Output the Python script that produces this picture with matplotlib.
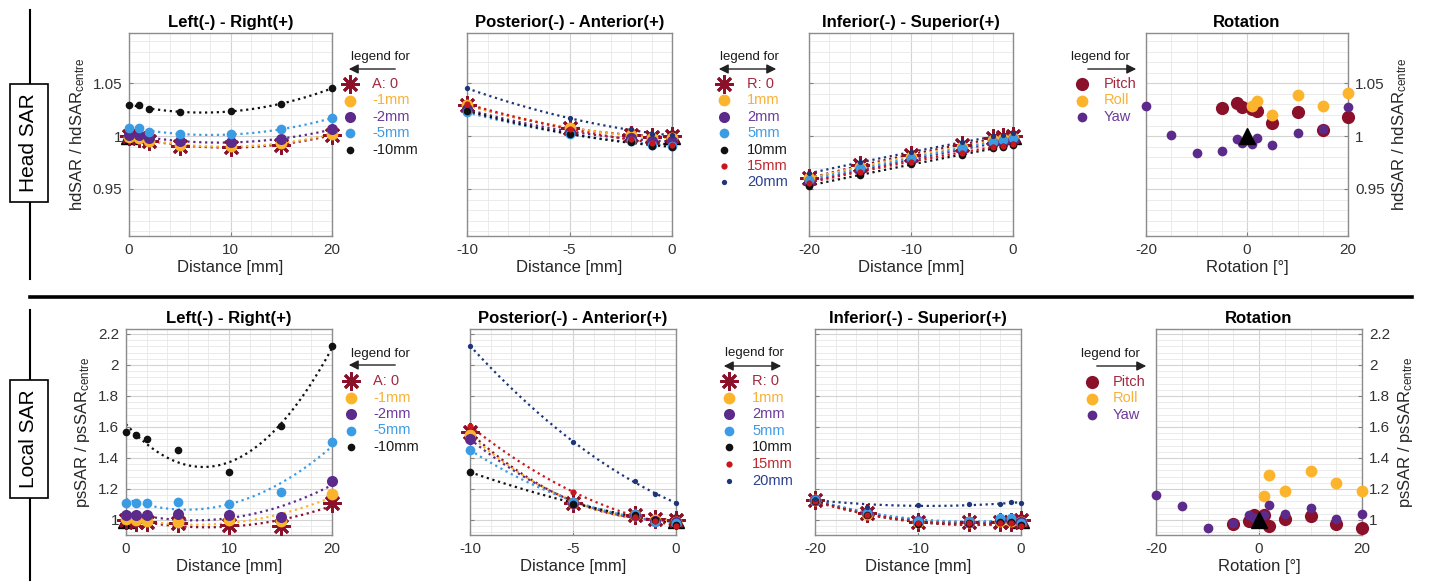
import numpy as np
import matplotlib
matplotlib.use("Agg")
import matplotlib.pyplot as plt
from matplotlib.lines import Line2D
from matplotlib.ticker import MultipleLocator

plt.rcParams['font.family'] = ['Liberation Sans', 'DejaVu Sans']
plt.rcParams['mathtext.default'] = 'regular'
plt.rcParams['axes.unicode_minus'] = False

W, H = 1430, 584

# ---------------- data ----------------
lr_dist = [0, 1, 2, 5, 10, 15, 20]          # left-right offset (R) in mm
pa_dist = [-10, -5, -2, -1, 0]              # posterior-anterior offset (A) in mm
is_dist = [-20, -15, -10, -5, -2, -1, 0]    # inferior-superior offset in mm

a_labels = ['A: 0', '-1mm', '-2mm', '-5mm', '-10mm']
r_labels = ['R: 0', '1mm', '2mm', '5mm', '10mm', '15mm', '20mm']
rot_labels = ['Pitch', 'Roll', 'Yaw']

# head SAR (hdSAR / hdSAR_centre), one list per A offset, values along lr_dist
head_a0 = [1.000, 0.998, 0.995, 0.991, 0.990, 0.992, 1.001]
head_a1 = [0.9995, 0.9985, 0.9955, 0.9918, 0.9905, 0.9932, 1.002]
head_a2 = [1.0015, 1.001, 0.998, 0.995, 0.9948, 0.997, 1.0065]
head_a5 = [1.008, 1.008, 1.0043, 1.0017, 1.0017, 1.0068, 1.0169]
head_a10 = [1.0295, 1.029, 1.0254, 1.0225, 1.0241, 1.0304, 1.0453]

# head SAR, inferior-superior, one list per R offset
head_is_r0 = [0.960, 0.9727, 0.9822, 0.9916, 0.998, 0.999, 1.000]
head_is_r1 = [0.960, 0.971, 0.9806, 0.990, 0.9964, 0.997, 0.998]
head_is_r2 = [0.957, 0.968, 0.9774, 0.9869, 0.9938, 0.9948, 0.9964]
head_is_r5 = [0.9585, 0.9696, 0.979, 0.9885, 0.9948, 0.9964, 0.998]
head_is_r10 = [0.9532, 0.9632, 0.9733, 0.9822, 0.9885, 0.990, 0.9916]
head_is_r15 = [0.956, 0.9664, 0.9759, 0.9844, 0.990, 0.991, 0.9926]
head_is_r20 = [0.9648, 0.9752, 0.9847, 0.9941, 1.0002, 1.001, 1.0027]

# local SAR (psSAR / psSAR_centre)
local_a0 = [1.000, 0.989, 0.988, 0.983, 0.968, 0.963, 1.108]
local_a1 = [1.004, 1.000, 0.994, 0.989, 1.000, 0.994, 1.166]
local_a2 = [1.032, 1.030, 1.032, 1.037, 1.032, 1.022, 1.254]
local_a5 = [1.108, 1.108, 1.112, 1.114, 1.103, 1.183, 1.501]
local_a10 = [1.565, 1.548, 1.523, 1.452, 1.310, 1.606, 2.125]

local_is_r0 = [1.130, 1.043, 0.987, 0.985, 0.990, 0.990, 1.000]
local_is_r1 = [1.128, 1.040, 0.990, 0.990, 0.995, 0.995, 0.989]
local_is_r2 = [1.130, 1.045, 0.992, 0.990, 1.000, 1.000, 0.988]
local_is_r5 = [1.130, 1.048, 0.995, 0.995, 1.010, 1.012, 0.983]
local_is_r10 = [1.125, 1.035, 0.975, 0.980, 0.985, 0.985, 0.968]
local_is_r15 = [1.120, 1.035, 0.980, 0.978, 0.980, 0.980, 0.963]
local_is_r20 = [1.135, 1.086, 1.097, 1.103, 1.103, 1.114, 1.108]

# rotation
pitch_deg = [-5, -2, -1, 1, 2, 5, 10, 15, 20]
roll_deg = [1, 2, 5, 10, 15, 20]
yaw_deg = [-20, -15, -10, -5, -2, -1, 1, 2, 5, 10, 15, 20]

head_pitch = [1.027, 1.0317, 1.028, 1.026, 1.024, 1.0128, 1.0232, 1.0058, 1.0185]
head_roll = [1.0285, 1.0336, 1.020, 1.0386, 1.0285, 1.0405]
head_yaw = [1.0285, 1.0011, 0.9844, 0.986, 0.997, 0.9938, 0.9926, 0.998, 0.9917, 1.0027, 1.0068, 1.0273]

local_pitch = [0.976, 0.994, 1.030, 1.032, 0.961, 1.004, 1.026, 0.972, 0.946]
local_roll = [1.156, 1.290, 1.184, 1.313, 1.238, 1.188]
local_yaw = [1.162, 1.091, 0.946, 0.983, 1.032, 1.015, 1.032, 1.097, 1.037, 1.080, 1.004, 1.041]

# ---------------- styles ----------------
ser_colors = ['#8b1029', '#fdb42d', '#5c2a8a', '#3b9be3', '#111111', '#c8161d', '#1d3578']
txt_colors = ['#a3293f', '#f7b136', '#6b3a9a', '#3d9be6', '#1a1a1a', '#c0272d', '#2b3f8c']
ser_marker = [(8, 2, 0), 'o', 'o', 'o', 'o', 'o', 'o']
ser_ms = [13, 8.5, 8, 7, 5.5, 4.5, 3.8]
rot_colors = ['#8b1029', '#fdb42d', '#5c2a8a']
rot_ms = [9.5, 8.5, 7]

fig = plt.figure(figsize=(W / 100, H / 100), dpi=100)


def fxy(x, y):
    return x / W, 1 - y / H


def add_axes_px(x0, x1, y0, y1):
    return fig.add_axes([x0 / W, 1 - y1 / H, (x1 - x0) / W, (y1 - y0) / H])


def style_axes(ax, xlim, xmaj, xmin, ylim, yticks, yticklabels, ymin_step):
    ax.set_xlim(xlim)
    ax.set_ylim(ylim)
    ax.xaxis.set_major_locator(MultipleLocator(xmaj))
    ax.xaxis.set_minor_locator(MultipleLocator(xmin))
    ax.set_yticks(yticks)
    ax.set_yticklabels(yticklabels)
    ax.yaxis.set_minor_locator(MultipleLocator(ymin_step))
    ax.grid(which='major', color='#d3d3d3', lw=0.8)
    ax.grid(which='minor', color='#e8e8e8', lw=0.6)
    ax.set_axisbelow(True)
    ax.tick_params(which='both', direction='in', colors='#808080',
                   labelcolor='#333333', labelsize=11, pad=5)
    ax.tick_params(which='minor', length=0)
    ax.tick_params(which='major', length=3)
    for s in ax.spines.values():
        s.set_color('#8c8c8c')
        s.set_linewidth(1)


def fit_curve(x, y):
    c = np.polyfit(x, y, 2)
    xs = np.linspace(min(x), max(x), 150)
    return xs, np.polyval(c, xs)


def plot_series(ax, x, series, tri_x):
    ax.plot([tri_x], [1], '^', color='k', ms=11, zorder=2.9, clip_on=False)
    for i, y in enumerate(series):
        xs, ys = fit_curve(x, y)
        ax.plot(xs, ys, ls=':', color=ser_colors[i], lw=1.6, zorder=2.5)
    for i, y in enumerate(series):
        if i == 0:
            ax.plot(x, y, ls='none', marker=ser_marker[i], ms=ser_ms[i],
                    mec=ser_colors[i], mew=2.0, zorder=3 + i, clip_on=False)
        else:
            ax.plot(x, y, ls='none', marker='o', ms=ser_ms[i], color=ser_colors[i],
                    mew=0, zorder=3 + i, clip_on=False)


def plot_rotation(ax, pitch, roll, yaw):
    for i, (xv, yv) in enumerate([(pitch_deg, pitch), (roll_deg, roll), (yaw_deg, yaw)]):
        ax.plot(xv, yv, ls='none', marker='o', ms=rot_ms[i], color=rot_colors[i],
                mew=0, zorder=3 + i, clip_on=False)
    ax.plot([0], [1], '^', color='k', ms=11, zorder=10)


def draw_legend(xm, xt, y0, dy, labels, colors, tcolors, markers, sizes):
    for i, lab in enumerate(labels):
        y = y0 + i * dy
        if markers[i] == 'o':
            fig.add_artist(Line2D([xm / W], [1 - y / H], marker='o', ms=sizes[i],
                                  color=colors[i], mew=0, transform=fig.transFigure))
        else:
            fig.add_artist(Line2D([xm / W], [1 - y / H], marker=markers[i], ms=sizes[i],
                                  mec=colors[i], mew=2.0, transform=fig.transFigure))
        fig.text(xt / W, 1 - y / H, lab, color=tcolors[i], fontsize=10.5,
                 va='center', ha='left')


def legend_for(xc, yt, ya, x_from, x_to, style):
    fig.text(xc / W, 1 - yt / H, 'legend for', fontsize=9.5, ha='center',
             va='center', color='#1a1a1a')
    fig.add_artist(matplotlib.patches.FancyArrowPatch(
        fxy(x_from, ya), fxy(x_to, ya), transform=fig.transFigure,
        arrowstyle=style, mutation_scale=14, color='#222222', lw=1.0))


top_y = (33, 236)
bot_y = (329, 535)
top_x = [(129, 332), (467, 672), (809, 1013), (1146, 1348)]
bot_x = [(126, 332), (470, 676), (815, 1021), (1156, 1362)]

head_ylim = (0.9055, 1.0976)
head_ticks = [0.95, 1.0, 1.05]
head_tlabels = ['0.95', '1', '1.05']
local_ylim = (0.903, 2.232)
local_ticks = [1.0, 1.2, 1.4, 1.6, 1.8, 2.0, 2.2]
local_tlabels = ['1', '1.2', '1.4', '1.6', '1.8', '2', '2.2']

rows = [
    dict(yb=top_y, xb=top_x, ylim=head_ylim, ticks=head_ticks, tl=head_tlabels, ystep=0.01,
         grid=np.array([head_a10, head_a5, head_a2, head_a1, head_a0]),
         is_ser=[head_is_r0, head_is_r1, head_is_r2, head_is_r5, head_is_r10, head_is_r15, head_is_r20],
         rot=(head_pitch, head_roll, head_yaw), name='hdSAR'),
    dict(yb=bot_y, xb=bot_x, ylim=local_ylim, ticks=local_ticks, tl=local_tlabels, ystep=0.04,
         grid=np.array([local_a10, local_a5, local_a2, local_a1, local_a0]),
         is_ser=[local_is_r0, local_is_r1, local_is_r2, local_is_r5, local_is_r10, local_is_r15, local_is_r20],
         rot=(local_pitch, local_roll, local_yaw), name='psSAR'),
]

titles = ['Left(-) - Right(+)', 'Posterior(-) - Anterior(+)', 'Inferior(-) - Superior(+)', 'Rotation']

for row in rows:
    yb = row['yb']
    axs = [add_axes_px(x0, x1, yb[0], yb[1]) for x0, x1 in row['xb']]
    grid = row['grid']
    ylabel = row['name'] + ' / ' + row['name'] + '$_{centre}$'

    ax = axs[0]
    style_axes(ax, (0, 20), 10, 2, row['ylim'], row['ticks'], row['tl'], row['ystep'])
    plot_series(ax, lr_dist, list(grid[::-1]), 0)
    ax.set_ylabel(ylabel, fontsize=12, color='#262626', labelpad=4)

    ax = axs[1]
    style_axes(ax, (-10, 0), 5, 1, row['ylim'], row['ticks'], row['tl'], row['ystep'])
    ax.set_yticklabels([])
    plot_series(ax, pa_dist, [grid[:, j] for j in range(grid.shape[1])], 0)

    ax = axs[2]
    style_axes(ax, (-20, 0), 10, 2, row['ylim'], row['ticks'], row['tl'], row['ystep'])
    ax.set_yticklabels([])
    plot_series(ax, is_dist, row['is_ser'], 0)

    ax = axs[3]
    style_axes(ax, (-20, 20), 20, 5, row['ylim'], row['ticks'], row['tl'], row['ystep'])
    ax.yaxis.tick_right()
    ax.yaxis.set_label_position('right')
    ax.tick_params(which='both', direction='in')
    plot_rotation(ax, *row['rot'])
    ax.set_ylabel(ylabel, fontsize=12, color='#262626', labelpad=4)

    for i, ax in enumerate(axs):
        ax.set_title(titles[i], fontsize=12, fontweight='bold', pad=4)
        ax.set_xlabel('Rotation [°]' if i == 3 else 'Distance [mm]', fontsize=12,
                      color='#262626', labelpad=2)

# ---------------- manual legends ----------------
a_markers = ser_marker[:5]
draw_legend(350, 372, 84, 16.5, a_labels, ser_colors, txt_colors, a_markers, ser_ms)
draw_legend(351, 373, 381, 16.5, a_labels, ser_colors, txt_colors, a_markers, ser_ms)
draw_legend(724, 747, 84, 16.4, r_labels, ser_colors, txt_colors, ser_marker, ser_ms)
draw_legend(729, 752, 381, 16.6, r_labels, ser_colors, txt_colors, ser_marker, ser_ms)
rot_tcolors = ['#a3293f', '#f7b136', '#6b3a9a']
draw_legend(1082, 1104, 84, 16.5, rot_labels, rot_colors, rot_tcolors, ['o'] * 3, rot_ms)
draw_legend(1092, 1113, 382, 16.5, rot_labels, rot_colors, rot_tcolors, ['o'] * 3, rot_ms)

legend_for(380, 57, 69, 398, 346, '-|>')
legend_for(380, 354, 365, 398, 346, '-|>')
legend_for(749, 57, 69, 716, 779, '<|-|>')
legend_for(754, 353, 366, 721, 784, '<|-|>')
legend_for(1100, 57, 69, 1085, 1139, '-|>')
legend_for(1110, 354, 366, 1094, 1149, '-|>')

# ---------------- section decorations ----------------
fig.add_artist(Line2D([30 / W, 30 / W], [1 - 10 / H, 1 - 279 / H], color='black', lw=1.5,
                      transform=fig.transFigure))
fig.add_artist(Line2D([30 / W, 30 / W], [1 - 310 / H, 1 - 580 / H], color='black', lw=1.5,
                      transform=fig.transFigure))
fig.add_artist(Line2D([30 / W, 1412 / W], [1 - 297 / H, 1 - 297 / H], color='black', lw=2.6,
                      transform=fig.transFigure))
box = dict(boxstyle='square,pad=0.45', fc='white', ec='black', lw=1.2)
fig.text(29 / W, 1 - 143 / H, 'Head SAR', rotation=90, fontsize=15, ha='center',
         va='center', bbox=box)
fig.text(29 / W, 1 - 439 / H, 'Local SAR', rotation=90, fontsize=15, ha='center',
         va='center', bbox=box)

fig.savefig('out.png', dpi=100)
